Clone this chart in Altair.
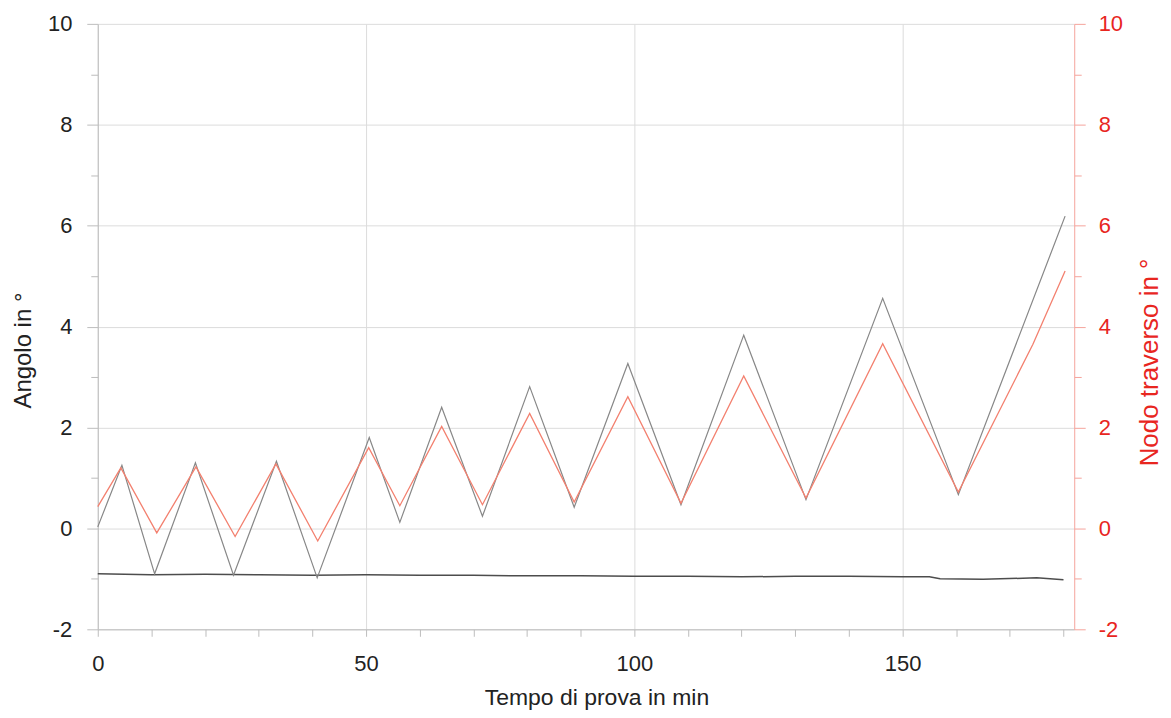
import altair as alt
import pandas as pd

# Angolo (gray zigzag)
t_angolo = [0, 4.5, 10.6, 18.2, 25.3, 33.3, 40.9, 50.6, 56.3, 64.1, 71.7, 80.5,
            88.8, 98.8, 108.7, 120.4, 132.0, 146.3, 160.4, 180.3]
angolo = [0.03, 1.25, -0.9, 1.3, -0.93, 1.33, -0.98, 1.8, 0.12, 2.40, 0.24, 2.81,
          0.42, 3.27, 0.47, 3.83, 0.57, 4.56, 0.67, 6.19]

# Nodo traverso (red zigzag, right axis)
t_nodo = [0, 4.3, 11.0, 18.3, 25.6, 33.2, 41.0, 50.5, 56.3, 64.1, 71.7, 80.5,
          88.8, 98.8, 108.7, 120.4, 132.0, 146.3, 160.4, 174.3, 180.3]
nodo = [0.43, 1.2, -0.09, 1.22, -0.16, 1.28, -0.25, 1.6, 0.45, 2.02, 0.47, 2.28,
        0.52, 2.61, 0.5, 3.02, 0.6, 3.66, 0.72, 3.65, 5.1]

# Dark, nearly flat line
t_base = [0, 10, 20, 30, 40, 50, 60, 70, 80, 90, 100, 110, 120, 130, 140, 150,
          155, 157, 165, 175, 180]
base = [-0.9, -0.92, -0.91, -0.92, -0.93, -0.92, -0.93, -0.93, -0.94, -0.94,
        -0.95, -0.95, -0.96, -0.95, -0.95, -0.96, -0.96, -1.0, -1.01, -0.98, -1.02]

x_ticks = list(range(0, 181, 10))
y_ticks = list(range(-2, 11))

FONT = "Liberation Sans"
RED = "#e8261f"

df_a = pd.DataFrame({"t": t_angolo, "v": angolo})
df_n = pd.DataFrame({"t": t_nodo, "v": nodo})
df_b = pd.DataFrame({"t": t_base, "v": base})

xscale = alt.Scale(domain=[0, 182], nice=False, zero=False)
yscale = alt.Scale(domain=[-2, 10], nice=False, zero=False)

y_label_expr = "datum.value % 2 == 0 ? toString(datum.value) : ''"

x_axis = alt.Axis(
    title="Tempo di prova in min",
    values=x_ticks,
    labelExpr="datum.value % 50 == 0 ? toString(datum.value) : ''",
    grid=True,
    gridColor="#dcdcdc",
    gridOpacity={"condition": {"test": "datum.value % 50 != 0", "value": 0}, "value": 1},
    domainColor="#bdbdbd",
    tickColor="#bdbdbd",
    tickSize=7,
    labelPadding=17,
    labelFont=FONT,
    labelFontSize=22,
    labelColor="#222222",
    labelFlush=False,
    labelOverlap=False,
    titleFont=FONT,
    titleFontSize=23,
    titleFontWeight="normal",
    titleColor="#222222",
    titleAlign="center",
    titleBaseline="middle",
    titleX=500,
    titleY=68,
)

left_axis = alt.Axis(
    title="Angolo in °",
    orient="left",
    values=y_ticks,
    labelExpr=y_label_expr,
    grid=True,
    gridColor="#dcdcdc",
    gridOpacity={"condition": {"test": "datum.value % 2 != 0", "value": 0}, "value": 1},
    domainColor="#bdbdbd",
    tickColor="#bdbdbd",
    tickSize={"condition": {"test": "datum.value % 2 != 0", "value": 7}, "value": 11},
    labelPadding=15,
    labelFont=FONT,
    labelFontSize=22,
    labelColor="#222222",
    labelFlush=False,
    labelOverlap=False,
    titleFont=FONT,
    titleFontSize=24,
    titleFontWeight="normal",
    titleColor="#222222",
    titleAngle=270,
    titleAlign="center",
    titleBaseline="middle",
    titleX=-74,
    titleY=327,
)

right_axis = alt.Axis(
    title="Nodo traverso in °",
    orient="right",
    values=y_ticks,
    labelExpr=y_label_expr,
    grid=False,
    domainColor="#f5a49c",
    tickColor="#f5a49c",
    tickSize={"condition": {"test": "datum.value % 2 != 0", "value": 7}, "value": 11},
    labelPadding=13,
    labelFont=FONT,
    labelFontSize=22,
    labelColor=RED,
    labelFlush=False,
    labelOverlap=False,
    titleFont=FONT,
    titleFontSize=26,
    titleFontWeight="normal",
    titleColor=RED,
    titleAngle=270,
    titleAlign="center",
    titleBaseline="middle",
    titleX=75,
    titleY=339,
)

gray = alt.Chart(df_a).mark_line(color="#878787", strokeWidth=1.2).encode(
    x=alt.X("t:Q", scale=xscale, axis=x_axis),
    y=alt.Y("v:Q", scale=yscale, axis=left_axis),
)
dark = alt.Chart(df_b).mark_line(color="#4d4d4d", strokeWidth=1.5).encode(
    x=alt.X("t:Q", scale=xscale),
    y=alt.Y("v:Q", scale=yscale, axis=left_axis),
)
red = alt.Chart(df_n).mark_line(color="#f3806f", strokeWidth=1.3).encode(
    x=alt.X("t:Q", scale=xscale),
    y=alt.Y("v:Q", scale=yscale, axis=right_axis),
)

left = alt.layer(dark, gray)
chart = (
    alt.layer(left, red)
    .resolve_scale(y="independent")
    .properties(
        width=979,
        height=607,
        autosize=alt.AutoSizeParams(type="none"),
        padding={"left": 90, "top": 15, "right": 89, "bottom": 82},
        background="white",
    )
    .configure_view(stroke=None)
)

chart.save("out.html", embed_options={"renderer": "svg", "actions": False})
